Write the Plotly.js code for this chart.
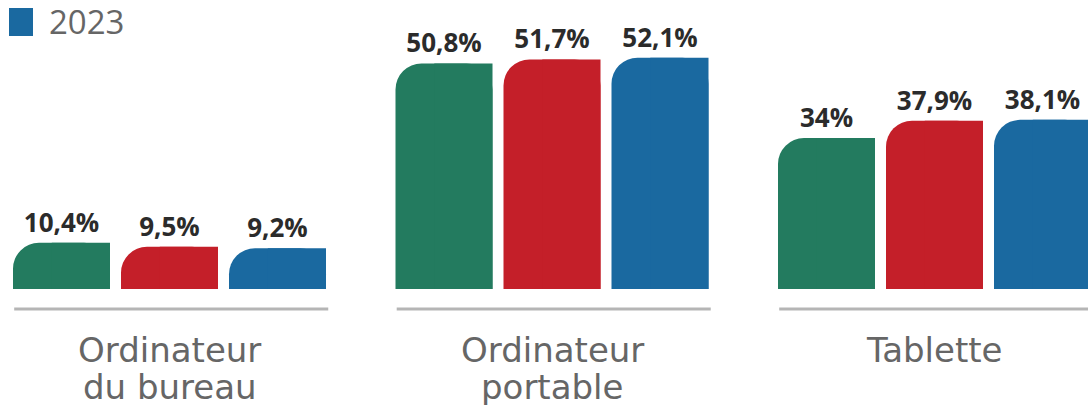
<!DOCTYPE html>
<html>
<head>
<meta charset="utf-8">
<script src="https://cdn.plot.ly/plotly-3.0.1.min.js"></script>
<style>html,body{margin:0;padding:0;background:#fff;}#chart{width:1088px;height:405px;}</style>
</head>
<body>
<div id="chart"></div>
<script>
// ---- data ----
const categories = ["Ordinateur<br>du bureau", "Ordinateur<br>portable", "Tablette"];
const seriesNames = ["2021", "2022", "2023"];
const values2021 = [10.4, 50.8, 34];
const values2022 = [9.5, 51.7, 37.9];
const values2023 = [9.2, 52.1, 38.1];
const seriesColors = ["#237B5F", "#C41F29", "#1A69A0"];

// ---- layout constants (pixels) ----
const W = 1088, H = 405;
const plotTop = 30, plotBottom = 289;
const unitPx = 382.5;          // px per category
const firstCenterPx = 169.5;   // px of first category centre
const slotPx = 108, barPx = 97;
const pxPerPct = 4.44;
const catFont = 34, catLineTop = [328, 365];

const plotH = plotBottom - plotTop;
const xMin = -firstCenterPx / unitPx;
const xMax = (W - firstCenterPx) / unitPx;
const slot = slotPx / unitPx, barW = barPx / unitPx;
const idx = categories.map((c, i) => i);

const allSeries = [values2021, values2022, values2023];
const fmt = v => String(v).replace('.', ',') + '%';

const traces = [];
allSeries.forEach((vals, i) => {
  const off = (i - 1.5) * slot + (slot - barW) / 2;
  traces.push({
    type: 'bar', x: idx, y: vals, name: seriesNames[i],
    offset: off, width: barW,
    marker: {color: seriesColors[i], cornerradius: 26, line: {width: 0}},
    text: vals.map(fmt), textposition: 'outside', cliponaxis: false,
    textfont: {family: 'Open Sans', size: 26, color: '#2b2b2b', weight: 'bold'},
    showlegend: false, hoverinfo: 'skip'
  });
  // square top-right corner
  traces.push({
    type: 'bar', x: idx, y: vals, name: seriesNames[i],
    offset: off + barW * 0.4, width: barW * 0.6,
    marker: {color: seriesColors[i], line: {width: 0}},
    showlegend: false, hoverinfo: 'skip'
  });
});

const shapes = idx.map(i => ({
  type: 'line', xref: 'x', yref: 'paper',
  x0: i - 0.406, x1: i + 0.415,
  y0: -(309 - plotBottom) / plotH, y1: -(309 - plotBottom) / plotH,
  line: {color: '#b5b5b5', width: 3}
}));
// legend swatch
shapes.push({
  type: 'rect', xref: 'paper', yref: 'paper',
  x0: 9 / W, x1: 33 / W,
  y0: (plotBottom - 36) / plotH, y1: (plotBottom - 8) / plotH,
  fillcolor: seriesColors[2], line: {width: 0}
});

const annotations = [{
  xref: 'paper', yref: 'paper', x: 47 / W, y: (plotBottom - 21) / plotH,
  xanchor: 'left', yanchor: 'middle', showarrow: false,
  text: seriesNames[2],
  font: {family: 'Open Sans', size: 33, color: '#666666'}
}];
// category labels, one annotation per line
categories.forEach((c, i) => {
  c.split('<br>').forEach((line, k) => {
    annotations.push({
      xref: 'x', yref: 'paper', x: i, y: (plotBottom - catLineTop[k]) / plotH,
      xanchor: 'center', yanchor: 'top', showarrow: false,
      text: line,
      font: {family: 'DejaVu Sans', size: catFont, color: '#666666'}
    });
  });
});

const layout = {
  width: W, height: H,
  margin: {l: 0, r: 0, t: plotTop, b: H - plotBottom, pad: 0},
  paper_bgcolor: '#fff', plot_bgcolor: '#fff',
  barmode: 'overlay',
  showlegend: false,
  xaxis: {
    range: [xMin, xMax], tickmode: 'array', tickvals: idx,
    showticklabels: false,
    showgrid: false, zeroline: false, showline: false, ticks: ''
  },
  yaxis: {
    range: [0, plotH / pxPerPct], showgrid: false, zeroline: false,
    showline: false, showticklabels: false, ticks: ''
  },
  shapes: shapes,
  annotations: annotations
};

Plotly.newPlot('chart', traces, layout, {displayModeBar: false, staticPlot: true});
</script>
</body>
</html>
